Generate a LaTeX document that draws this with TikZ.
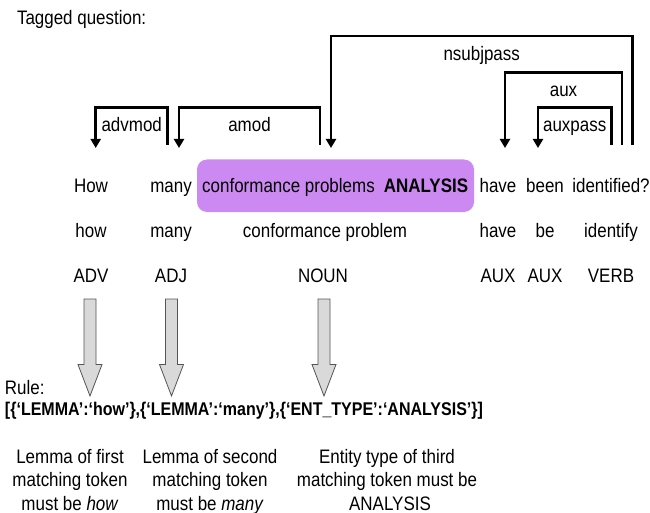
\documentclass[tikz,border=0pt]{standalone}
\usepackage{fontspec}
\setmainfont{Liberation Sans}[FakeStretch=0.87]
\usetikzlibrary{arrows.meta,calc}
\definecolor{entpurple}{RGB}{205,137,242}
\definecolor{blockgray}{RGB}{217,217,217}
\definecolor{blockedge}{RGB}{85,85,85}
\begin{document}
\begin{tikzpicture}[x=1pt,y=-1pt,
  every node/.style={inner sep=0pt,outer sep=0pt},
  txt/.style={anchor=base,font=\fontsize{19.5}{23.5}\selectfont},
  deplabel/.style={anchor=base,font=\fontsize{19.5}{23.5}\selectfont},
  dep/.style={line width=2.6pt,line join=miter,-{Triangle[width=10pt,length=9pt]}},
  entbox/.style={fill=entpurple,rounded corners=10pt,minimum width=277pt,minimum height=52.5pt},
  blockarrow/.style={fill=blockgray,draw=blockedge,line width=0.8pt,line join=miter},
  desc/.style={anchor=base,align=center,font=\fontsize{19.5}{23.5}\selectfont}]
\useasboundingbox (0,0) rectangle (650,513);

% title
\node[txt,anchor=base west] (title) at (17,24.5) {Tagged question:};

% entity box
\node[entbox] (ent) at (335.5,185.75) {};

% word row
\node[txt] (w1) at (91,193) {How};
\node[txt] (w2) at (171,193) {many};
\node[txt] (w3) at (288.5,193) {conformance problems};
\node[txt] (w4) at (426,193) {\bfseries ANALYSIS};
\node[txt] (w5) at (498,193) {have};
\node[txt] (w6) at (545,193) {been};
\node[txt] (w7) at (611,193) {identified?};

% lemma row
\node[txt] (l1) at (91,237.5) {how};
\node[txt] (l2) at (171,237.5) {many};
\node[txt] (l3) at (325,237.5) {conformance problem};
\node[txt] (l5) at (498,237.5) {have};
\node[txt] (l6) at (545,237.5) {be};
\node[txt] (l7) at (611,237.5) {identify};

% POS row
\node[txt] (p1) at (91,282) {ADV};
\node[txt] (p2) at (171,282) {ADJ};
\node[txt] (p3) at (323,282) {NOUN};
\node[txt] (p5) at (498,282) {AUX};
\node[txt] (p6) at (545,282) {AUX};
\node[txt] (p7) at (611,282) {VERB};

% dependency levels
\coordinate (lvlA) at (0,36);
\coordinate (lvlB) at (0,72.5);
\coordinate (lvlC) at (0,107.5);

% arc end points
\coordinate (advmodS) at (167.7,145);
\coordinate (advmodE) at (95.7,148);
\coordinate (amodS) at (320,145);
\coordinate (amodE) at (179,148);
\coordinate (nsubjS) at (632.5,145);
\coordinate (nsubjE) at (331,148);
\coordinate (auxS) at (622,145);
\coordinate (auxE) at (505,148);
\coordinate (auxpS) at (611.5,145);
\coordinate (auxpE) at (538,148);

\draw[dep] (advmodS) |- (advmodE |- lvlC) -- (advmodE);
\draw[dep] (amodS) |- (amodE |- lvlC) -- (amodE);
\draw[dep] (nsubjS) |- (nsubjE |- lvlA) -- (nsubjE);
\draw[dep] (auxS) |- (auxE |- lvlB) -- (auxE);
\draw[dep] (auxpS) |- (auxpE |- lvlC) -- (auxpE);

\node[deplabel] (lbadvmod) at (131.7,131.8) {advmod};
\node[deplabel] (lbamod) at (249.5,131.8) {amod};
\node[deplabel] (lbnsubj) at (481.7,60.3) {nsubjpass};
\node[deplabel] (lbaux) at (563.5,96.8) {aux};
\node[deplabel] (lbauxp) at (574.7,131.8) {auxpass};

% block arrows
\foreach \cx/\nm in {90/ba1,171.5/ba2,324/ba3}{
  \draw[blockarrow] (\cx-6,299) -- (\cx-6,364.5) -- (\cx-12,364.5) -- (\cx,396)
     -- (\cx+12,364.5) -- (\cx+6,364.5) -- (\cx+6,299) -- cycle;
}

% rule
\node[txt,anchor=base west] (rulelbl) at (5,394) {Rule:};
\node[anchor=base west,font=\fontsize{18.4}{22}\selectfont\bfseries] (rule) at (5,415)
  {[\{‘LEMMA’:‘how’\},\{‘LEMMA’:‘many’\},\{‘ENT\_TYPE’:‘ANALYSIS’\}]};

% descriptions
\node[desc,anchor=base] (d1a) at (70,463) {Lemma of first};
\node[desc,anchor=base] (d1b) at (70,486.5) {matching token};
\node[desc,anchor=base] (d1c) at (70,510) {must be \textit{how}};
\node[desc,anchor=base] (d2a) at (210,463) {Lemma of second};
\node[desc,anchor=base] (d2b) at (210,486.5) {matching token};
\node[desc,anchor=base] (d2c) at (210,510) {must be \textit{many}};
\node[desc,anchor=base] (d3a) at (387,463) {Entity type of third};
\node[desc,anchor=base] (d3b) at (387,486.5) {matching token must be};
\node[desc,anchor=base] (d3c) at (390,510) {ANALYSIS};
\end{tikzpicture}
\end{document}
